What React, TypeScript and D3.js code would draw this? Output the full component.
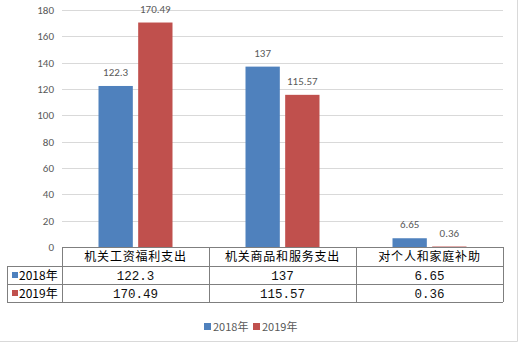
import React from "react";
import * as d3 from "d3";

const categories = ["机关工资福利支出", "机关商品和服务支出", "对个人和家庭补助"];
const seriesNames = ["2018年", "2019年"];
const values2018 = [122.3, 137, 6.65];
const values2019 = [170.49, 115.57, 0.36];
const tableText2018 = ["122.3", "137", "6.65"];
const tableText2019 = ["170.49", "115.57", "0.36"];
const yTicks = [0, 20, 40, 60, 80, 100, 120, 140, 160, 180];
const colors = ["#4F81BD", "#C0504D"];

const W = 524;
const H = 349;

export default function App() {
  const left = 62;
  const right = 503;
  const y = d3.scaleLinear().domain([0, 180]).range([247, 10]);
  const x = d3.scaleBand<string>().domain(categories).range([left, right]);
  const inner = d3.scaleBand<string>().domain(seriesNames).range([0, 74]).paddingInner(0.135);
  const series = [values2018, values2019];
  const tableRows = [tableText2018, tableText2019];
  const rowTops = [247, 266, 284, 302];
  const tableLeft = 7;
  const labelFont = "Calibri, Carlito, 'Liberation Sans', Arial, sans-serif";

  return (
    <svg width={W} height={H} style={{ position: "absolute", left: 0, top: 0, background: "#fff" }}>
      <rect x={0} y={0} width={W} height={H} fill="#fff" />
      {/* outer frame */}
      <line x1={517.5} y1={0} x2={517.5} y2={341.5} stroke="#d9d9d9" />
      <line x1={0} y1={341.5} x2={517.5} y2={341.5} stroke="#d9d9d9" />
      {/* gridlines */}
      {yTicks.map((t) =>
        t === 0 ? null : (
          <line key={t} x1={left} x2={right} y1={Math.round(y(t)) + 0.5} y2={Math.round(y(t)) + 0.5} stroke="#d9d9d9" />
        )
      )}
      {yTicks.map((t) => (
        <text key={"t" + t} x={54} y={y(t) + 4} textAnchor="end" fontSize={11} fill="#595959" fontFamily={labelFont}>
          {t}
        </text>
      ))}
      {/* bars */}
      {categories.map((c, i) =>
        series.map((vals, s) => {
          const bx = (x(c) as number) + (x.bandwidth() - 74) / 2 + (inner(seriesNames[s]) as number);
          const bw = inner.bandwidth();
          return (
            <g key={c + s}>
              <rect x={bx} y={y(vals[i])} width={bw} height={y(0) - y(vals[i])} fill={colors[s]} />
              <text x={bx + bw / 2} y={y(vals[i]) - 10} textAnchor="middle" fontSize={11} fill="#595959" fontFamily={labelFont}>
                {tableRows[s][i]}
              </text>
            </g>
          );
        })
      )}
      {/* data table */}
      <g stroke="#7f7f7f" strokeWidth={1} fill="none">
        <line x1={left} x2={right} y1={rowTops[0] + 0.5} y2={rowTops[0] + 0.5} />
        {rowTops.slice(1).map((r) => (
          <line key={r} x1={tableLeft} x2={right} y1={r + 0.5} y2={r + 0.5} />
        ))}
        <line x1={tableLeft + 0.5} x2={tableLeft + 0.5} y1={rowTops[1]} y2={rowTops[3]} />
        {[left, ...categories.map((c) => (x(c) as number) + x.bandwidth())].map((v, k) => (
          <line key={k} x1={Math.round(v) + 0.5} x2={Math.round(v) + 0.5} y1={rowTops[0]} y2={rowTops[3]} />
        ))}
      </g>
      {categories.map((c) => (
        <text
          key={"h" + c}
          x={(x(c) as number) + x.bandwidth() / 2}
          y={rowTops[0] + 14}
          textAnchor="middle"
          fontSize={12}
          letterSpacing={0.8}
          fill="#000"
          fontFamily="'Noto Sans CJK SC', sans-serif"
        >
          {c}
        </text>
      ))}
      {seriesNames.map((s, k) => (
        <g key={"row" + s}>
          <rect x={12} y={rowTops[k + 1] + 6} width={6} height={6} fill={colors[k]} />
          <text x={19} y={rowTops[k + 1] + 14} fontSize={12} fill="#000" fontFamily="'Noto Sans CJK SC', sans-serif">
            {s}
          </text>
          {categories.map((c, i) => (
            <text
              key={c}
              x={(x(c) as number) + x.bandwidth() / 2}
              y={rowTops[k + 1] + 14}
              textAnchor="middle"
              fontSize={12.5}
              fill="#111"
              fontFamily="'Liberation Mono', monospace"
            >
              {tableRows[k][i]}
            </text>
          ))}
        </g>
      ))}
      {/* legend */}
      {seriesNames.map((s, k) => (
        <g key={"lg" + s} transform={`translate(${204 + k * 49},0)`}>
          <rect x={0} y={323} width={7} height={7} fill={colors[k]} />
          <text x={9} y={330.5} fontSize={11} fill="#595959" fontFamily="'Noto Sans CJK SC', sans-serif">
            {s}
          </text>
        </g>
      ))}
    </svg>
  );
}
